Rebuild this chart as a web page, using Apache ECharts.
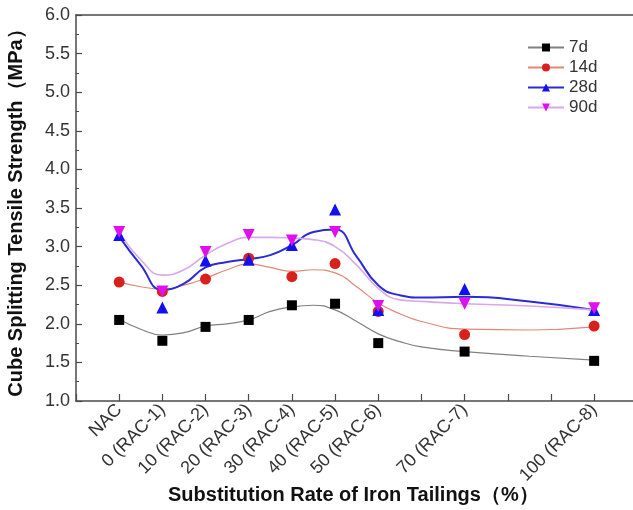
<!DOCTYPE html>
<html>
<head>
<meta charset="utf-8">
<script src="https://cdn.jsdelivr.net/npm/echarts@6/dist/echarts.min.js"></script>
<style>
  html, body { margin: 0; padding: 0; background: #fff; }
  #chart { width: 633px; height: 510px; }
</style>
</head>
<body>
<div id="chart"></div>
<script>
// substitution rate positions (NAC placed one step left of 0)
var ratePos = [-10, 0, 10, 20, 30, 40, 50, 70, 100];
var rateLabels = ['NAC', '0 (RAC-1)', '10 (RAC-2)', '20 (RAC-3)', '30 (RAC-4)',
    '40 (RAC-5)', '50 (RAC-6)', '70 (RAC-7)', '100 (RAC-8)'];

// measured points
var d7 = [2.05, 1.78, 1.96, 2.05, 2.24, 2.26, 1.75, 1.64, 1.52];
var d14 = [2.54, 2.42, 2.58, 2.85, 2.61, 2.78, 2.16, 1.86, 1.97];
var d28 = [3.15, 2.21, 2.82, 2.83, 3.02, 3.48, 2.18, 2.45, 2.18];
var d90 = [3.19, 2.42, 2.93, 3.15, 3.08, 3.19, 2.23, 2.26, 2.20];

// fitted curves
var curvePos = [-10, -5, 0, 5, 10, 15, 20, 25, 30, 35, 40, 45, 50, 55, 60, 70, 85, 100];
var fit7 = [2.06, 1.93, 1.855, 1.885, 1.97, 2.0, 2.05, 2.16, 2.22, 2.24, 2.18, 2.03, 1.87, 1.77, 1.70, 1.64, 1.58, 1.53];
var fit14 = [2.54, 2.48, 2.45, 2.5, 2.59, 2.70, 2.775, 2.73, 2.68, 2.70, 2.66, 2.48, 2.27, 2.13, 2.03, 1.93, 1.92, 1.96];
var fit28 = [3.13, 2.76, 2.44, 2.52, 2.73, 2.80, 2.84, 2.89, 3.02, 3.19, 3.22, 2.87, 2.50, 2.37, 2.34, 2.35, 2.29, 2.18];
var fit90 = [3.19, 2.83, 2.63, 2.70, 2.89, 3.04, 3.12, 3.12, 3.11, 3.09, 3.0, 2.76, 2.46, 2.31, 2.29, 2.26, 2.23, 2.18];

var ages = ['7d', '14d', '28d', '90d'];
var xTitle = 'Substitution Rate of Iron Tailings（%）';
var yTitle = 'Cube Splitting Tensile Strength（MPa）';

function pairs(xs, ys) {
    var out = [];
    for (var i = 0; i < xs.length; i++) {
        out.push([xs[i], ys[i]]);
    }
    return out;
}

var styles = [
    { mark: '#000000', line: '#808080', width: 1.2, symbol: 'rect', size: 10 },
    { mark: '#d8201c', line: '#e08878', width: 1.2, symbol: 'circle', size: 11 },
    { mark: '#1010f0', line: '#2a2ad8', width: 2, symbol: 'triangle', size: 12 },
    { mark: '#e010ee', line: '#d8a8ec', width: 1.6, symbol: 'path://M0,0L10,0L5,9Z', size: 12 }
];
var points = [d7, d14, d28, d90];
var fits = [fit7, fit14, fit28, fit90];

var series = [];
for (var i = 0; i < ages.length; i++) {
    var s = styles[i];
    // curve (also gives the legend icon)
    series.push({
        name: ages[i],
        type: 'line',
        smooth: 0.5,
        symbol: s.symbol,
        symbolSize: s.size,
        showSymbol: false,
        itemStyle: { color: s.mark },
        lineStyle: { color: s.line, width: s.width },
        data: pairs(curvePos, fits[i]),
        z: 2
    });
}
for (var i = 0; i < ages.length; i++) {
    var s = styles[i];
    series.push({
        name: ages[i],
        type: 'scatter',
        symbol: s.symbol,
        symbolSize: s.size,
        itemStyle: { color: s.mark, opacity: 1 },
        data: pairs(ratePos, points[i]),
        z: 3 + i
    });
}

var myChart = echarts.init(document.getElementById('chart'));

var labelFont = 'Liberation Sans';

var option = {
    animation: false,
    backgroundColor: '#ffffff',
    // x axis title placed as a chart title under the rotated labels
    title: {
        text: xTitle,
        left: 168,
        top: 485,
        padding: 0,
        textStyle: { fontSize: 20, fontWeight: 'bold', color: '#111', fontFamily: labelFont }
    },
    grid: {
        left: 76,
        top: 15,
        right: 0,
        bottom: 109,
        outerBoundsMode: 'none'
    },
    legend: {
        orient: 'vertical',
        left: 522,
        top: 34,
        itemWidth: 36,
        itemHeight: 10,
        itemGap: 3,
        data: ages,
        textStyle: { fontSize: 17, color: '#333', fontFamily: labelFont }
    },
    xAxis: [{
        type: 'value',
        min: -20,
        max: 109,
        interval: 10,
        axisLine: { onZero: false, lineStyle: { color: '#4a4a4a', width: 1.5 } },
        axisTick: { inside: true, length: 7, lineStyle: { color: '#4a4a4a', width: 1.2 } },
        splitLine: { show: false },
        axisLabel: {
            rotate: 45,
            fontSize: 18,
            color: '#333',
            fontFamily: labelFont,
            margin: 6,
            showMaxLabel: false,
            formatter: function (v) {
                var k = ratePos.indexOf(v);
                return k >= 0 ? rateLabels[k] : '';
            }
        }
    }, {
        // top frame line
        type: 'value',
        position: 'top',
        min: -20,
        max: 109,
        axisLine: { show: true, onZero: false, lineStyle: { color: '#4a4a4a', width: 1.5 } },
        axisTick: { show: false },
        axisLabel: { show: false },
        splitLine: { show: false }
    }],
    yAxis: {
        type: 'value',
        min: 1,
        max: 6,
        interval: 0.5,
        name: yTitle,
        nameLocation: 'middle',
        nameGap: 50,
        nameTextStyle: { fontSize: 20, fontWeight: 'bold', color: '#111', fontFamily: labelFont },
        axisLine: { show: true, onZero: false, lineStyle: { color: '#4a4a4a', width: 1.5 } },
        axisTick: { inside: true, length: 6, lineStyle: { color: '#4a4a4a', width: 1.2 } },
        minorTick: { show: true, splitNumber: 2, length: 3, lineStyle: { color: '#4a4a4a', width: 1 } },
        splitLine: { show: false },
        axisLabel: {
            fontSize: 18,
            color: '#333',
            fontFamily: labelFont,
            margin: 6,
            formatter: function (v) {
                return v.toFixed(1);
            }
        }
    },
    series: series
};

myChart.setOption(option);
</script>
</body>
</html>
